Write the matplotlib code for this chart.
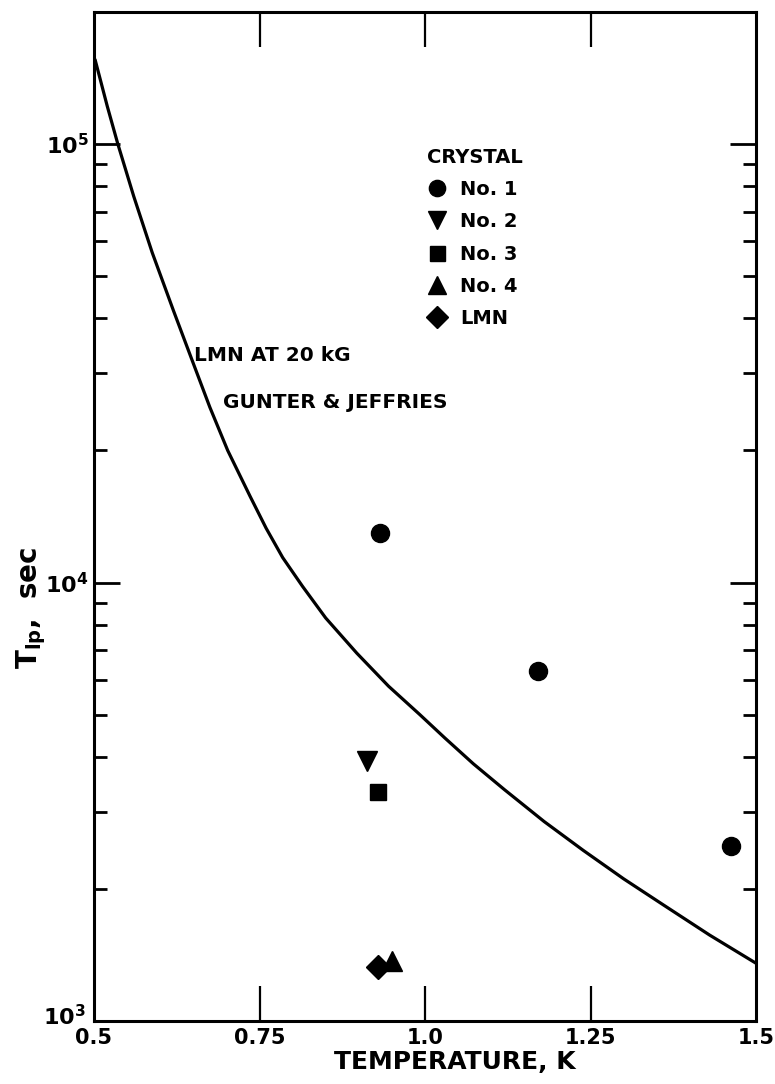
import numpy as np
import matplotlib.pyplot as plt
import matplotlib.transforms as mtransforms
from matplotlib.lines import Line2D
from matplotlib.ticker import FixedLocator, LogLocator, NullFormatter

# === data ===
# Gunter & Jeffries curve (LMN at 20 kG)
curve_T = [0.502, 0.520, 0.536, 0.560, 0.588, 0.620, 0.650, 0.675, 0.702, 0.736,
           0.760, 0.785, 0.815, 0.850, 0.897, 0.945, 0.992, 1.030, 1.073, 1.120,
           1.180, 1.239, 1.300, 1.360, 1.430, 1.498]
curve_tau = [1.55e5, 1.22e5, 1.0e5, 7.6e4, 5.65e4, 4.17e4, 3.16e4, 2.51e4, 2.0e4, 1.57e4,
             1.33e4, 1.14e4, 9.8e3, 8.3e3, 6.9e3, 5.8e3, 5.0e3, 4.42e3, 3.86e3, 3.37e3,
             2.85e3, 2.45e3, 2.11e3, 1.84e3, 1.57e3, 1.36e3]

crystal_labels = ["No. 1", "No. 2", "No. 3", "No. 4", "LMN"]
crystal_markers = ["o", "v", "s", "^", "D"]
crystal_T = [[0.932, 1.171, 1.462], [0.912], [0.929], [0.950], [0.929]]
crystal_tau = [[1.30e4, 6.28e3, 2.51e3], [3.92e3], [3.33e3], [1.37e3], [1.33e3]]
marker_sizes = [13, 14, 12, 14, 12]

x_ticks = [0.5, 0.75, 1.0, 1.25, 1.5]
x_ticklabels = ["0.5", "0.75", "1.0", "1.25", "1.5"]

plt.rcParams['font.family'] = ['DejaVu Sans']
plt.rcParams['font.weight'] = 'bold'
plt.rcParams['mathtext.default'] = 'bf'

fig = plt.figure(figsize=(7.75, 10.84), dpi=100)
ax = fig.add_axes([94 / 775, 1 - 1021 / 1084, 662 / 775, 1009 / 1084])

ax.plot(curve_T, curve_tau, color='black', lw=2.3, solid_joinstyle='round')
for lab, mk, xs, ys, ms in zip(crystal_labels, crystal_markers, crystal_T, crystal_tau, marker_sizes):
    ax.plot(xs, ys, linestyle='none', marker=mk, color='black', markersize=ms)

ax.set_yscale('log')
ax.set_xlim(0.5, 1.5)
ax.set_ylim(1e3, 2e5)

# frame and ticks, all pointing in
for s in ax.spines.values():
    s.set_linewidth(2.2)

ax.xaxis.set_major_locator(FixedLocator(x_ticks))
ax.set_xticklabels(x_ticklabels)
ax.yaxis.set_major_locator(LogLocator(base=10))
ax.yaxis.set_minor_locator(LogLocator(base=10, subs=np.arange(2, 10)))
ax.yaxis.set_minor_formatter(NullFormatter())

ax.tick_params(axis='x', which='major', direction='in', length=25, width=1.6,
               top=True, bottom=True, labelsize=15, pad=5)
ax.tick_params(axis='y', which='major', direction='in', length=19, width=2,
               left=True, right=True, labelsize=16, pad=4)
ax.tick_params(axis='y', which='minor', direction='in', length=9.5, width=2,
               left=True, right=True)
for t in ax.xaxis.get_major_ticks():
    if t.get_loc() in (0.5, 1.5):
        t.tick1line.set_visible(False)
        t.tick2line.set_visible(False)

# nudge the 10^3 label up so it clears the 0.5 label
for lbl in ax.get_yticklabels():
    if lbl.get_position()[1] == 1e3:
        lbl.set_transform(lbl.get_transform() + mtransforms.ScaledTranslation(-3 / 100, 6 / 100, fig.dpi_scale_trans))

ax.set_xlabel("TEMPERATURE, K", fontsize=18, fontweight='bold')
ax.xaxis.set_label_coords(0.545, -0.029)
ax.set_ylabel(r"T$_{\mathbf{lp}}$,  sec", fontsize=20, fontweight='bold')
ax.yaxis.set_label_coords(-0.07, 0.41)

ax.text(0.6505, 3.3e4, "LMN AT 20 kG", fontsize=14.5, fontweight='bold', va='center', ha='left')
ax.text(0.6945, 2.58e4, "GUNTER & JEFFRIES", fontsize=14.5, fontweight='bold', va='center', ha='left')

handles = [Line2D([], [], linestyle='none', marker=mk, color='black', markersize=ms * 0.9)
           for mk, ms in zip(crystal_markers, marker_sizes)]
leg = ax.legend(handles, crystal_labels, title="CRYSTAL", loc='upper left',
                bbox_to_anchor=(0.489, 0.875), frameon=False, fontsize=14,
                title_fontproperties={'weight': 'bold', 'size': 14},
                alignment='left', handlelength=1.0, handletextpad=0.7,
                labelspacing=0.68, borderpad=0)

fig.savefig("out.png", dpi=100)
